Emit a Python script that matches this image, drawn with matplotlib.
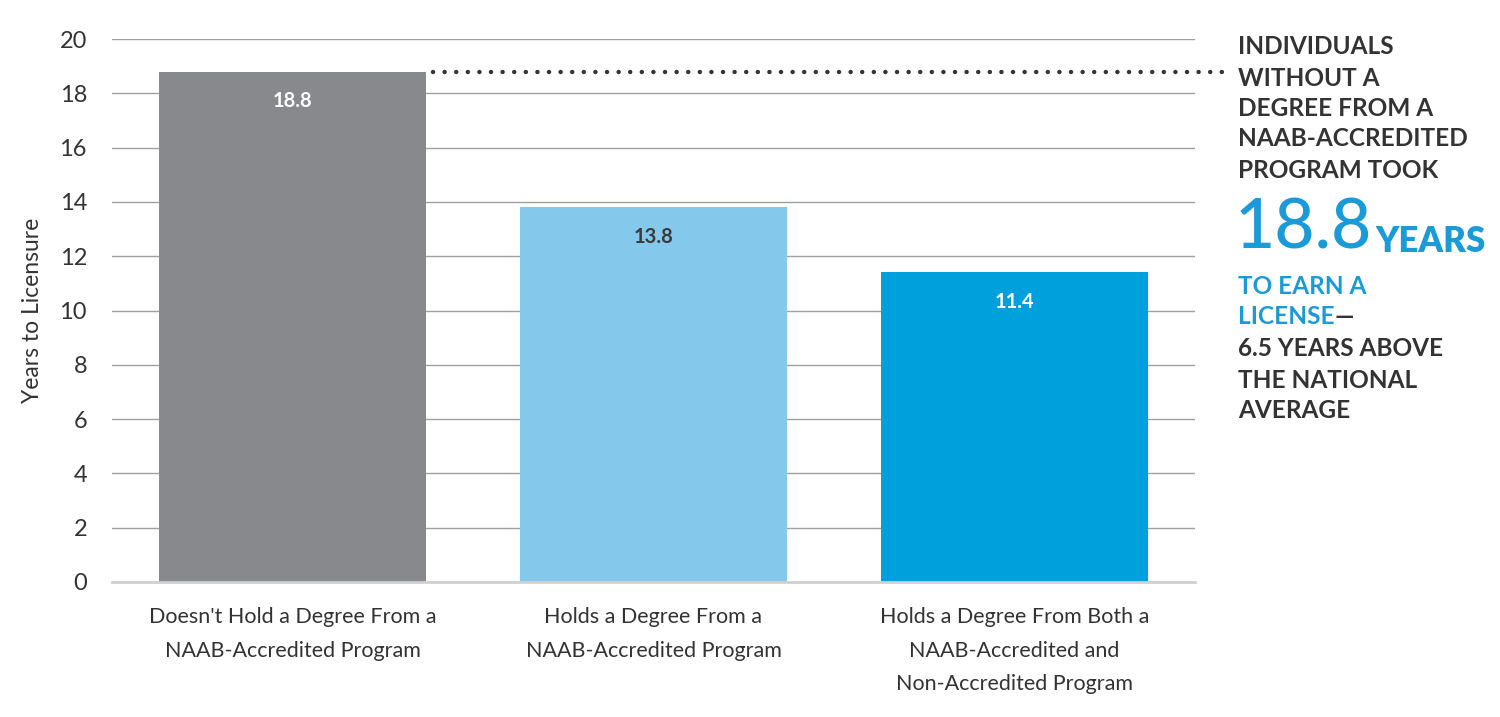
import matplotlib
matplotlib.use("Agg")
import matplotlib.pyplot as plt

categories = [
    "Doesn't Hold a Degree From a\nNAAB-Accredited Program",
    "Holds a Degree From a\nNAAB-Accredited Program",
    "Holds a Degree From Both a\nNAAB-Accredited and\nNon-Accredited Program",
]
values = [18.8, 13.8, 11.4]
bar_colors = ["#88898d", "#84c8ec", "#00a0dd"]
label_colors = ["white", "#3a3a3a", "white"]
yticks = [0, 2, 4, 6, 8, 10, 12, 14, 16, 18, 20]

note_top = ["INDIVIDUALS", "WITHOUT A", "DEGREE FROM A", "NAAB-ACCREDITED", "PROGRAM TOOK"]
note_big = "18.8"
note_big_unit = "YEARS"
note_blue = ["TO EARN A", "LICENSE"]
note_bottom = ["6.5 YEARS ABOVE", "THE NATIONAL", "AVERAGE"]

plt.rcParams['font.family'] = ['Lato', 'DejaVu Sans']
W, H = 1500, 717
fig = plt.figure(figsize=(15, 7.17), dpi=100)
ax = fig.add_axes([112 / W, 1 - 582 / H, (1195 - 112) / W, (582 - 39) / H])

text_col = "#333333"
x = list(range(len(values)))
bars = ax.bar(x, values, width=0.74, color=bar_colors, zorder=3)
ax.set_xlim(-0.5, 2.5)
ax.set_ylim(0, 20)
ax.set_yticks(yticks)
ax.set_yticklabels([str(t) for t in yticks], fontsize=17, color=text_col)
ax.set_xticks(x)
ax.set_xticklabels(categories, fontsize=15.5, color=text_col, linespacing=1.85)
ax.tick_params(axis="both", length=0)
ax.tick_params(axis="y", pad=18)
ax.tick_params(axis="x", pad=18)
ax.yaxis.grid(True, color="#a0a0a0", linewidth=1.0, zorder=0)
for s in ["top", "right", "left"]:
    ax.spines[s].set_visible(False)
ax.spines["bottom"].set_color("#d0d0d0")
ax.spines["bottom"].set_linewidth(2)
ax.spines["bottom"].set_zorder(4)
ax.set_ylabel("Years to Licensure", fontsize=16.5, color=text_col, labelpad=12)

for xi, v, c in zip(x, values, label_colors):
    ax.text(xi, v - 0.72, f"{v}", ha="center", va="top", fontsize=14.5, fontweight="bold", color=c, zorder=5)

# dotted leader line from the first bar
ax.plot([x[0] + 0.39, 2.585], [values[0], values[0]], linestyle=(0, (0.01, 2.6)), color="#333333",
        linewidth=3.2, clip_on=False, zorder=5, dash_capstyle="round", solid_capstyle="round")

dark = "#333333"
blue = "#1a9ad6"
lx = 1238 / W
fs = 17.6
line_y = [47, 78, 109, 139, 170]
for t, yy in zip(note_top, line_y):
    fig.text(lx, 1 - yy / H, t, fontsize=fs, fontweight="bold", color=dark, va="center", ha="left")
big = fig.text(lx - 0.002, 1 - 229 / H, note_big, fontsize=50, color=blue, va="center", ha="left", fontweight="medium")
fig.canvas.draw()
bbig = big.get_window_extent()
fig.text(bbig.x1 / W + 0.002, 1 - 242 / H, note_big_unit, fontsize=25, color=blue, va="center", ha="left", fontweight="heavy")
fig.text(lx, 1 - 287 / H, note_blue[0], fontsize=fs, fontweight="bold", color=blue, va="center", ha="left")
t1 = fig.text(lx, 1 - 317 / H, note_blue[1], fontsize=fs, fontweight="bold", color=blue, va="center", ha="left")
fig.canvas.draw()
bb = t1.get_window_extent()
fig.text(bb.x1 / W, 1 - 317 / H, "\u2014", fontsize=fs, fontweight="bold", color=dark, va="center", ha="left")
for t, yy in zip(note_bottom, [349, 380, 410]):
    fig.text(lx, 1 - yy / H, t, fontsize=fs, fontweight="bold", color=dark, va="center", ha="left")

fig.savefig("out.png", dpi=100, facecolor="white")
